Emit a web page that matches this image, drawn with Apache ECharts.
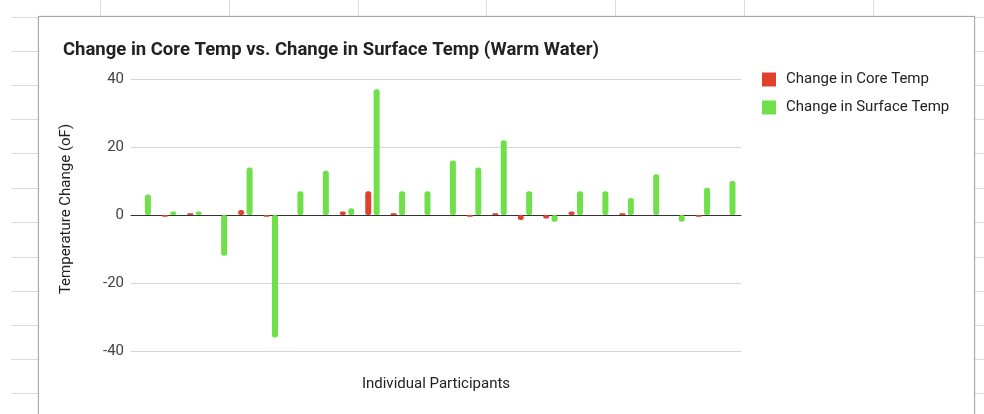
<!DOCTYPE html>
<html>
<head>
<meta charset="utf-8">
<script src="https://cdn.jsdelivr.net/npm/echarts@6/dist/echarts.min.js"></script>
<style>
  html, body { margin: 0; padding: 0; background: #fff; }
  #wrap { position: relative; width: 984px; height: 414px; overflow: hidden; background: #fff; }
  .hl { position: absolute; height: 1px; background: #dcdcdc; }
  .vl { position: absolute; width: 1px; background: #dcdcdc; }
  #box { position: absolute; left: 38px; top: 16px; width: 935px; height: 420px; border: 1px solid #a8a8a8; background: #fff; box-shadow: 0 0 2px rgba(0,0,0,0.15); }
  #chart { position: absolute; left: 0; top: 0; width: 984px; height: 414px; }
</style>
</head>
<body>
<div id="wrap">
  <div id="deco"></div>
  <div id="box"></div>
  <div id="chart"></div>
</div>
<script>
// ---- data ----
const participants = ["1","2","3","4","5","6","7","8","9","10","11","12","13","14","15","16","17","18","19","20","21","22","23","24"];
const coreTempChange = [0, -0.5, 0.5, 0, 1.5, -0.5, 0, 0, 1, 7, 0.5, 0, 0, -0.5, 0.5, -1.5, -1, 1, 0, 0.5, 0, 0, -0.5, 0];
const surfaceTempChange = [6, 1, 1, -12, 14, -36, 7, 13, 2, 37, 7, 7, 16, 14, 22, 7, -2, 7, 7, 5, 12, -2, 8, 10];
const yTicks = [-40, -20, 0, 20, 40];
const seriesNames = ["Change in Core Temp", "Change in Surface Temp"];

// ---- spreadsheet background decoration ----
(function () {
  const deco = document.getElementById('deco');
  const rows = [17, 51, 85, 119, 153, 188, 222, 257, 291, 325, 359, 393];
  rows.forEach(y => {
    const a = document.createElement('div'); a.className = 'hl';
    a.style.left = '11px'; a.style.width = '28px'; a.style.top = y + 'px'; deco.appendChild(a);
    const b = document.createElement('div'); b.className = 'hl';
    b.style.left = '975px'; b.style.width = '9px'; b.style.top = y + 'px'; deco.appendChild(b);
  });
  const cols = [100, 229, 358, 486, 615, 744, 873];
  cols.forEach(x => {
    const v = document.createElement('div'); v.className = 'vl';
    v.style.left = x + 'px'; v.style.top = '0px'; v.style.height = '16px'; deco.appendChild(v);
  });
})();

const chart = echarts.init(document.getElementById('chart'), null, { renderer: 'canvas' });
const font = 'Roboto, "Noto Sans", sans-serif';
chart.setOption({
  backgroundColor: 'transparent',
  animation: false,
  textStyle: { fontFamily: font },
  title: {
    text: 'Change in Core Temp vs. Change in Surface Temp (Warm Water)',
    left: 58, top: 36,
    textStyle: { fontFamily: font, fontSize: 18.5, fontWeight: 'bold', color: '#222' }
  },
  legend: {
    orient: 'vertical',
    left: 762, top: 72,
    padding: 0,
    itemWidth: 14, itemHeight: 14, itemGap: 13,
    icon: 'rect',
    data: seriesNames,
    textStyle: { fontFamily: font, fontSize: 15, color: '#222', padding: [0, 0, 0, 5] }
  },
  grid: { left: 131, right: 243, top: 79, bottom: 63, containLabel: false, outerBoundsMode: 'none' },
  xAxis: {
    type: 'category',
    data: participants,
    name: 'Individual Participants',
    nameLocation: 'middle',
    nameGap: 26,
    nameTextStyle: { fontFamily: font, fontSize: 15, color: '#222' },
    axisLine: { onZero: true, lineStyle: { color: '#333', width: 1 } },
    axisTick: { show: false },
    axisLabel: { show: false },
    splitLine: { show: false }
  },
  yAxis: {
    type: 'value',
    min: yTicks[0], max: yTicks[yTicks.length - 1], interval: 20,
    name: 'Temperature Change (oF)',
    nameLocation: 'middle',
    nameGap: 57,
    nameTextStyle: { fontFamily: font, fontSize: 15, color: '#222', padding: [0, 0, 0, 12] },
    axisLine: { show: false },
    axisTick: { show: false },
    axisLabel: { fontFamily: font, fontSize: 15, color: '#444', margin: 7 },
    splitLine: { lineStyle: { color: '#d6d6d6', width: 1 } }
  },
  series: [
    {
      name: seriesNames[0], type: 'bar', data: coreTempChange,
      barWidth: 6, barGap: '40%',
      itemStyle: { color: '#e0412d', borderRadius: 2.5 }
    },
    {
      name: seriesNames[1], type: 'bar', data: surfaceTempChange,
      barWidth: 6, barGap: '40%',
      itemStyle: { color: '#6fe04a', borderRadius: 2.5 }
    }
  ]
});
</script>
</body>
</html>
